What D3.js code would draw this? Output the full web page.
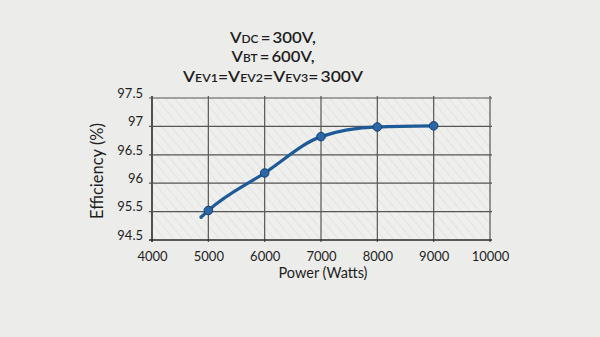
<!DOCTYPE html>
<html><head><meta charset="utf-8">
<script src="https://cdn.jsdelivr.net/npm/d3@7"></script>
<style>
html,body{margin:0;padding:0;background:#ececeb;}
svg{display:block;}
text{font-family:Lato,"Noto Sans",sans-serif;fill:#1e1e1e;}
</style></head>
<body>
<svg id="c" width="600" height="337"></svg>
<script>
// ---- data ----
const powerW = [5000, 6000, 7000, 8000, 9000];
const efficiency = [95.52, 96.18, 96.82, 96.99, 97.01];
const tailPower = [4870];
const tailEff = [95.4];
const xTicks = [4000, 5000, 6000, 7000, 8000, 9000, 10000];
const yTickValues = [95, 95.5, 96, 96.5, 97, 97.5];
const yTickLabels = ["94.5", "95.5", "96", "96.5", "97", "97.5"];
const xTitle = "Power (Watts)";
const yTitle = "Efficiency (%)";
const titleLines = [
  [["V",""],["DC","s"],["\u2009=\u2009300V,",""]],
  [["V",""],["BT","s"],["\u2009=\u2009600V,",""]],
  [["V",""],["EV1","s"],["=",""],["V",""],["EV2","s"],["=",""],["V",""],["EV3","s"],["=\u2009300V",""]]
];

const svg = d3.select("#c");
const W = 600, H = 337;
const m = {l:152, r:110, t:98, b:97};
const x = d3.scaleLinear().domain([4000, 10000]).range([m.l, W - m.r]);
const y = d3.scaleLinear().domain([95, 97.5]).range([H - m.b, m.t]);

// paper background
svg.append("rect").attr("width", W).attr("height", H).attr("fill", "#ececeb");

// hatch pattern
const defs = svg.append("defs");
const pat = defs.append("pattern").attr("id","hatch").attr("patternUnits","userSpaceOnUse")
  .attr("width",7).attr("height",7).attr("patternTransform","rotate(-40)");
pat.append("rect").attr("width",7).attr("height",7).attr("fill","#efefee");
pat.append("line").attr("x1",0).attr("y1",0).attr("x2",0).attr("y2",7)
  .attr("stroke","#dadad8").attr("stroke-width",1.1);

svg.append("rect").attr("x", m.l).attr("y", m.t)
  .attr("width", x(10000) - m.l).attr("height", y(95) - m.t)
  .attr("fill","url(#hatch)");

// grid
const g = svg.append("g");
g.selectAll(".vg").data(xTicks).join("line")
  .attr("x1", d => x(d)).attr("x2", d => x(d))
  .attr("y1", y(97.5) - 2).attr("y2", y(95) + 2)
  .attr("stroke", (d,i) => (i===0 ? "#2a2a2a" : "#555"))
  .attr("stroke-width", (d,i) => (i===0 ? 1.6 : 1.2));
g.selectAll(".hg").data(yTickValues).join("line")
  .attr("x1", x(4000) - 3).attr("x2", x(10000) + 2)
  .attr("y1", d => y(d)).attr("y2", d => y(d))
  .attr("stroke", (d,i) => (i===0 ? "#2a2a2a" : "#555"))
  .attr("stroke-width", (d,i) => (i===0 ? 1.6 : 1.2));

// axes labels via d3 axes
const xAxis = d3.axisBottom(x).tickValues(xTicks).tickFormat(d3.format("d")).tickSize(0).tickPadding(10);
const xa = svg.append("g").attr("transform", `translate(0,${y(95)+2})`).call(xAxis);
xa.select(".domain").remove();
xa.selectAll("text").attr("font-size", 13).attr("fill", "#1e1e1e").attr("font-family", "Lato, 'Noto Sans', sans-serif");

const yAxis = d3.axisLeft(y).tickValues(yTickValues)
  .tickFormat((d) => yTickLabels[yTickValues.indexOf(d)]).tickSize(0).tickPadding(9);
const ya = svg.append("g").attr("transform", `translate(${x(4000)},0)`).call(yAxis);
ya.select(".domain").remove();
ya.selectAll("text").attr("font-size", 13).attr("fill", "#1e1e1e").attr("font-family", "Lato, 'Noto Sans', sans-serif")
  .attr("dy", "-0.05em");

// axis titles
svg.append("text").attr("x", (x(4000)+x(10000))/2 + 2).attr("y", 278)
  .attr("text-anchor","middle").attr("font-size", 14.5).text(xTitle);
svg.append("text").attr("transform", `translate(103,${(y(95)+y(97.5))/2 + 2}) rotate(-90)`)
  .attr("text-anchor","middle").attr("font-size", 16.5).text(yTitle);

// line
const pts = tailPower.map((p,i) => [p, tailEff[i]]).concat(powerW.map((p,i) => [p, efficiency[i]]));
const line = d3.line().x(d => x(d[0])).y(d => y(d[1])).curve(d3.curveMonotoneX);
svg.append("path").datum(pts).attr("d", line)
  .attr("fill","none").attr("stroke","#1f5a98").attr("stroke-width",3.2)
  .attr("stroke-linecap","round");

svg.selectAll(".pt").data(powerW).join("circle")
  .attr("cx", d => x(d)).attr("cy", (d,i) => y(efficiency[i])).attr("r", 4.3)
  .attr("fill","#2b67a6").attr("stroke","#17406e").attr("stroke-width",1);

// title
const tY = [43, 62, 82];
const tLen = [86, 83, 180];
titleLines.forEach((parts, li) => {
  const t = svg.append("text").attr("x", 273).attr("y", tY[li]).attr("text-anchor","middle")
    .attr("font-size", 15.5).attr("font-weight", 600)
    .attr("textLength", tLen[li]).attr("lengthAdjust", "spacingAndGlyphs");
  parts.forEach(p => {
    t.append("tspan").attr("font-size", p[1] === "s" ? 11 : 15.5).text(p[0]);
  });
});
</script>
</body></html>
